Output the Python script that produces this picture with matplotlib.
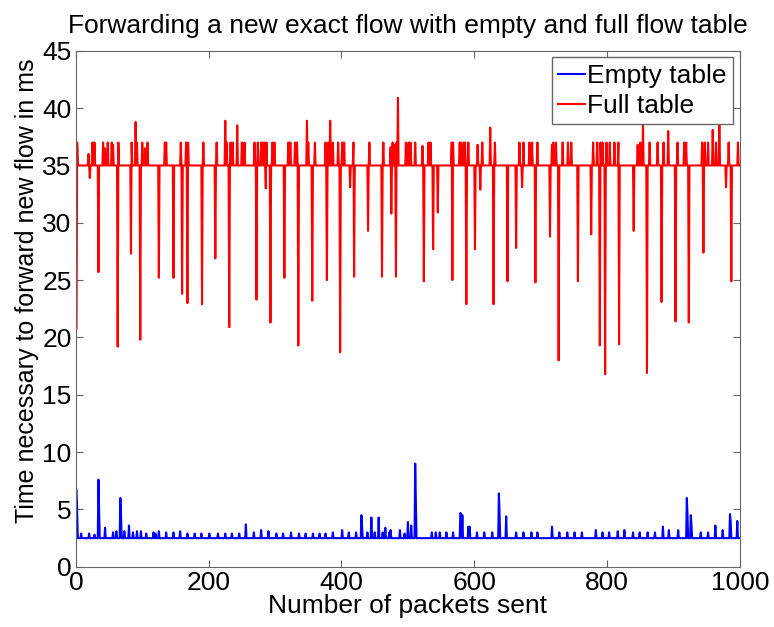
import numpy as np
import matplotlib
matplotlib.use('Agg')
from matplotlib import pyplot as plt

plt.rcParams['font.family'] = ['Liberation Sans', 'DejaVu Sans']

n_packets = 1000

# Full table: mostly ~35 ms, short upward bumps and deep downward drops
full_base = 35.0
full_up_x = [2, 19, 25, 28, 41, 44, 48, 54, 56, 64, 84, 90, 92, 100, 104, 108, 134, 136, 158,
             166, 169, 192, 212, 225, 227, 233, 236, 243, 250, 254, 269, 274, 279, 281, 284,
             287, 296, 299, 320, 323, 330, 333, 348, 350, 360, 376, 380, 383, 387, 395, 401,
             404, 418, 442, 463, 474, 477, 480, 483, 485, 497, 501, 504, 511, 522, 531, 534,
             566, 568, 578, 580, 584, 586, 591, 605, 612, 624, 631, 668, 674, 683, 687, 695,
             717, 719, 723, 733, 741, 746, 779, 785, 790, 793, 799, 804, 811, 817, 846, 850,
             854, 864, 876, 885, 892, 906, 916, 919, 943, 947, 952, 959, 964, 969, 983, 997]
full_up_y = [37.0, 36.0, 37.0, 37.0, 37.0, 36.5, 37.0, 37.0, 36.8, 37.0, 37.0, 38.8, 37.0, 37.0,
             36.5, 37.0, 37.0, 37.0, 37.0, 37.0, 37.0, 37.0, 37.0, 38.9, 37.0, 37.0, 37.0,
             38.5, 37.0, 37.0, 37.0, 37.0, 37.0, 37.0, 37.0, 37.0, 37.0, 37.0, 37.0, 37.0,
             37.0, 37.0, 38.9, 37.0, 37.0, 37.0, 37.0, 38.9, 37.0, 37.0, 37.0, 37.0, 37.0,
             37.0, 37.0, 36.6, 37.0, 36.8, 37.0, 40.9, 37.0, 37.0, 37.0, 37.0, 36.7, 37.0,
             37.0, 37.0, 37.0, 37.0, 37.0, 37.0, 37.0, 37.0, 36.8, 37.0, 38.3, 37.0, 37.0,
             37.0, 37.0, 37.0, 37.0, 36.8, 37.0, 37.0, 37.0, 37.0, 37.0, 37.0, 37.0, 37.0,
             37.0, 37.0, 37.0, 37.0, 37.0, 36.8, 37.0, 38.6, 37.0, 37.0, 37.0, 38.0, 37.0,
             37.0, 37.0, 37.0, 37.0, 37.0, 38.1, 37.0, 38.8, 37.0, 37.0]
full_down_x = [1, 21, 34, 63, 83, 97, 125, 147, 160, 168, 190, 210, 231, 272, 286, 293, 314,
               335, 356, 378, 398, 413, 419, 440, 461, 475, 482, 524, 538, 545, 567, 588, 601,
               609, 629, 650, 663, 672, 692, 714, 727, 756, 776, 789, 797, 818, 840, 860, 882,
               903, 923, 945, 979, 987]
full_down_y = [20.8, 33.9, 25.7, 19.2, 27.3, 19.8, 25.2, 25.2, 23.8, 23.0, 22.9, 26.9, 20.9,
               23.3, 33.0, 21.3, 25.2, 19.3, 23.2, 25.0, 18.7, 33.1, 25.3, 29.3, 25.3, 30.8,
               25.3, 24.9, 27.7, 30.9, 25.0, 22.9, 27.7, 32.9, 22.9, 24.9, 27.8, 33.1, 24.8,
               28.8, 18.0, 24.9, 29.0, 19.3, 16.8, 19.4, 29.3, 16.9, 23.1, 21.4, 21.3, 27.4,
               33.1, 24.9]

# Empty table: ~2.5 ms with a few spikes
empty_base = 2.5
empty_spike_x = [1, 2, 34, 35, 44, 67, 68, 80, 256, 279, 401, 430, 431, 445, 456, 466, 474,
                 488, 500, 505, 511, 512, 579, 580, 582, 591, 593, 637, 638, 648, 717, 783,
                 826, 884, 893, 907, 920, 921, 926, 927, 963, 974, 985, 986, 996]
empty_spike_y = [6.7, 4.6, 7.6, 4.9, 3.4, 6.0, 4.5, 3.6, 3.7, 3.2, 3.2, 4.5, 3.5, 4.3, 4.3,
                 3.4, 3.2, 3.2, 3.9, 3.6, 9.0, 5.7, 4.7, 4.6, 4.5, 3.5, 3.5, 6.4, 4.7, 4.4,
                 3.5, 3.2, 3.2, 3.5, 3.2, 3.2, 6.0, 4.6, 4.5, 3.6, 3.6, 3.2, 4.6, 4.0, 4.0]
empty_bump_x = [8, 20, 28, 56, 61, 73, 86, 92, 98, 106, 117, 120, 125, 136, 147, 157, 168,
                179, 189, 201, 214, 225, 235, 246, 268, 290, 302, 312, 324, 336, 346, 357,
                367, 376, 387, 411, 422, 439, 450, 462, 472, 495, 536, 542, 548, 558, 568,
                604, 615, 627, 663, 674, 686, 695, 728, 740, 751, 762, 793, 803, 816, 839,
                849, 861, 872, 941, 952]
empty_bump_y = [2.9, 2.9, 2.8, 3.0, 3.1, 3.1, 3.0, 3.1, 3.1, 2.9, 3.0, 2.9, 3.1, 3.0, 3.0,
                3.1, 2.9, 2.9, 2.9, 2.9, 2.9, 2.9, 2.9, 2.9, 3.0, 3.1, 2.9, 2.9, 3.0, 2.9,
                2.9, 2.9, 2.9, 2.9, 3.0, 3.0, 3.0, 3.0, 3.0, 3.0, 3.0, 2.9, 3.0, 3.0, 3.0,
                3.0, 3.0, 3.0, 3.0, 3.0, 3.0, 3.0, 3.0, 3.0, 3.0, 3.0, 3.0, 3.0, 3.0, 3.0,
                3.1, 3.0, 3.0, 3.0, 3.0, 3.0, 3.0]

x = np.arange(1, n_packets + 1)

full = np.full(n_packets, full_base)
full[np.array(full_up_x) - 1] = full_up_y
full[np.array(full_down_x) - 1] = full_down_y

empty = np.full(n_packets, empty_base)
empty[np.array(empty_bump_x) - 1] = empty_bump_y
empty[np.array(empty_spike_x) - 1] = empty_spike_y

fs = 19

fig = plt.figure(figsize=(7.74, 6.27), dpi=100)
ax = fig.add_axes([0.098, 0.096, 0.858, 0.823])

ax.plot(x, empty, color='blue', linewidth=1.5, label='Empty table')
ax.plot(x, full, color='red', linewidth=1.5, label='Full table')

ax.set_xlim(0, 1000)
ax.set_ylim(0, 45)
ax.set_xticks(range(0, 1001, 200))
ax.set_yticks(range(0, 46, 5))
ax.tick_params(direction='in', top=True, right=True, labelsize=fs, length=5, color='0.4', pad=3)
for s in ax.spines.values():
    s.set_color('0.4')

ax.set_xlabel('Number of packets sent', fontsize=fs, labelpad=-1)
ax.set_ylabel('Time necessary to forward new flow in ms', fontsize=18)
ax.yaxis.set_label_coords(-0.055, 0.535)
ax.set_title('Forwarding a new exact flow with empty and full flow table', fontsize=fs, pad=13)

leg = ax.legend(loc='upper right', fontsize=fs, fancybox=False, framealpha=1,
                edgecolor='0.4', handlelength=1.0, handletextpad=0.1, borderpad=0.25,
                labelspacing=0.22, borderaxespad=0.25)
leg.get_frame().set_linewidth(1.0)

fig.savefig('out.png', dpi=100)
